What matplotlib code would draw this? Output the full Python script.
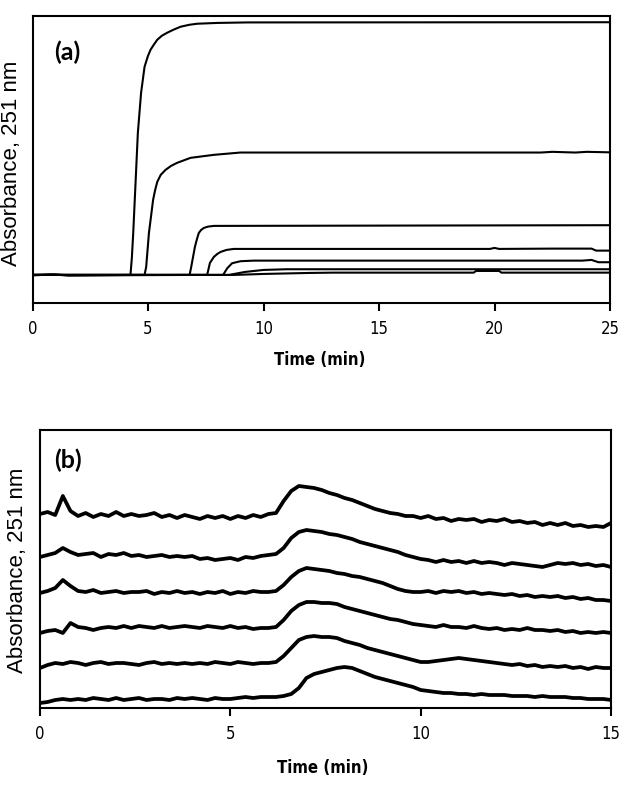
import numpy as np
import matplotlib
matplotlib.use("Agg")
import matplotlib.pyplot as plt

NARROW = ["DejaVu Sans"]
REGULAR = ["Liberation Sans", "DejaVu Sans"]
LABEL = ["Lato", "Open Sans", "DejaVu Sans"]

# ---- panel (a): breakthrough curves, absorbance in arbitrary units ----
a_xticks = [0, 5, 10, 15, 20, 25]

c1_t = [0, 1.0, 1.6, 4.24, 4.3, 4.36, 4.46, 4.56, 4.7, 4.85, 5.0, 5.11, 5.25,
        5.4, 5.6, 5.83, 6.1, 6.41, 6.8, 7.13, 8.0, 9.3, 25]
c1_v = [28, 28.5, 27.5, 28, 45, 70, 120, 170, 210, 236, 247, 253, 258,
        263, 267, 270, 273, 276, 278, 279, 279.8, 280.3, 280.5]

c2_t = [0, 4.85, 4.92, 5.04, 5.22, 5.31, 5.4, 5.55, 5.76, 6.0, 6.26, 6.84,
        7.85, 9.0, 22.0, 22.5, 23.5, 24.0, 25]
c2_v = [28, 28, 36, 70, 103, 113, 121, 128, 133, 137, 140, 145,
        148, 150.3, 150.3, 151, 150.3, 151, 150.5]

c3_t = [0, 0.8, 1.5, 6.8, 6.87, 7.03, 7.12, 7.2, 7.3, 7.42, 7.6, 7.85, 25]
c3_v = [27.5, 28.5, 27.5, 28, 36, 56, 64, 70, 73, 75, 76.3, 77, 77.7]

c4_t = [0, 7.56, 7.68, 7.85, 8.0, 8.14, 8.4, 8.71, 19.8, 20.0, 20.2, 22.5,
        24.2, 24.4, 25]
c4_v = [28, 28, 40, 46, 49, 51, 53, 54, 54, 55, 54, 54.3,
        54.3, 52.3, 52.3]

c5_t = [0, 8.25, 8.43, 8.64, 9.0, 9.58, 23.8, 24.2, 24.5, 25]
c5_v = [28, 28, 34.7, 39.7, 41.7, 42.3, 42.3, 43, 40.7, 40.7]

c6_t = [0, 8.5, 9.2, 10.0, 11.0, 25]
c6_v = [28, 28, 31, 33, 33.7, 33.7]

c7_t = [0, 8.7, 10.0, 12.0, 13.0, 19.1, 19.2, 20.2, 20.3, 25]
c7_v = [28, 28, 29, 30, 30.3, 30.3, 32, 32, 30.3, 30.3]

a_curves = [(c1_t, c1_v), (c2_t, c2_v), (c3_t, c3_v), (c4_t, c4_v),
            (c5_t, c5_v), (c6_t, c6_v), (c7_t, c7_v)]

# ---- panel (b): stacked chromatograms, sampled every 0.2 min ----
b_xticks = [0, 5, 10, 15]
b_time = np.round(np.arange(0, 15.01, 0.2), 1)

trace1 = [194, 196, 193, 212, 197, 192, 195, 191, 194, 192,
          196, 192, 194, 192, 193, 195, 191, 193, 190, 193,
          191, 189, 192, 190, 192, 189, 192, 190, 193, 191,
          194, 195, 207, 217, 222, 221, 220, 218, 215, 213,
          210, 208, 205, 202, 199, 197, 195, 194, 192, 192,
          190, 192, 189, 190, 187, 189, 188, 189, 186, 188,
          187, 189, 186, 187, 185, 186, 183, 185, 183, 185,
          182, 183, 181, 182, 181, 185]
trace2 = [151, 153, 155, 160, 156, 153, 154, 155, 151, 154,
          153, 155, 152, 153, 151, 152, 153, 151, 152, 151,
          152, 149, 150, 148, 149, 150, 148, 151, 150, 152,
          153, 154, 160, 170, 176, 178, 177, 176, 174, 173,
          171, 169, 166, 164, 162, 160, 158, 156, 153, 151,
          149, 148, 146, 148, 146, 147, 145, 147, 145, 146,
          145, 143, 145, 144, 143, 142, 141, 143, 145, 144,
          145, 143, 144, 142, 143, 141]
trace3 = [115, 117, 120, 128, 122, 117, 116, 118, 115, 116,
          117, 115, 116, 116, 117, 114, 116, 115, 117, 115,
          116, 114, 116, 115, 117, 114, 116, 115, 117, 116,
          116, 117, 123, 131, 137, 140, 139, 138, 137, 135,
          134, 132, 131, 129, 127, 125, 122, 119, 117, 116,
          116, 117, 115, 117, 116, 117, 115, 116, 114, 115,
          114, 113, 114, 112, 113, 111, 112, 111, 112, 110,
          111, 109, 110, 108, 108, 107]
trace4 = [75, 77, 78, 75, 85, 81, 80, 78, 80, 81,
          80, 82, 80, 82, 81, 80, 82, 80, 81, 82,
          81, 80, 82, 81, 80, 82, 80, 81, 79, 80,
          80, 81, 88, 97, 103, 106, 106, 105, 105, 104,
          101, 99, 97, 95, 93, 91, 89, 88, 86, 84,
          83, 82, 81, 83, 81, 81, 80, 82, 80, 79,
          80, 78, 79, 78, 80, 78, 78, 77, 78, 76,
          77, 75, 76, 75, 76, 75]
trace5 = [40, 43, 45, 44, 46, 45, 43, 45, 46, 44,
          45, 45, 44, 43, 45, 46, 44, 45, 44, 45,
          44, 45, 44, 46, 45, 44, 46, 45, 44, 45,
          45, 46, 52, 60, 68, 71, 72, 71, 71, 70,
          67, 65, 63, 60, 58, 56, 54, 52, 50, 48,
          46, 46, 47, 48, 49, 50, 49, 48, 47, 46,
          45, 44, 43, 44, 42, 43, 41, 42, 41, 42,
          40, 41, 39, 41, 40, 40]
trace6 = [5, 6, 8, 9, 8, 9, 8, 10, 9, 8,
          10, 8, 9, 10, 8, 9, 9, 8, 10, 9,
          10, 9, 8, 10, 9, 9, 10, 11, 10, 11,
          11, 11, 12, 14, 20, 30, 34, 36, 38, 40,
          41, 40, 37, 34, 31, 29, 27, 25, 23, 21,
          18, 17, 16, 15, 15, 14, 14, 13, 14, 13,
          13, 13, 12, 12, 12, 11, 12, 11, 11, 11,
          10, 10, 9, 9, 9, 8]
b_traces = [trace1, trace2, trace3, trace4, trace5, trace6]


def style_axes(ax, xticks):
    for sp in ax.spines.values():
        sp.set_linewidth(1.5)
    ax.set_yticks([])
    ax.set_xticks(xticks)
    ax.tick_params(axis="x", direction="out", length=6, width=1.5, pad=6,
                   labelsize=12)
    for lab in ax.get_xticklabels():
        lab.set_family(NARROW)
        lab.set_stretch("condensed")


def main():
    fig = plt.figure(figsize=(6.29, 7.90), dpi=100)

    ax_a = fig.add_axes([0.0517, 0.6165, 0.9181, 0.3636])
    for t, v in a_curves:
        ax_a.plot(t, v, color="black", lw=1.5, solid_joinstyle="round")
    ax_a.set_xlim(0, 25)
    ax_a.set_ylim(0, 287)
    style_axes(ax_a, a_xticks)
    ax_a.text(0.038, 0.872, "(a)", transform=ax_a.transAxes, ha="left",
              va="center", fontsize=18, fontweight="bold", family=LABEL)

    ax_b = fig.add_axes([0.0636, 0.1038, 0.9078, 0.3519])
    for vals in b_traces:
        ax_b.plot(b_time, vals, color="black", lw=2.7, solid_joinstyle="round")
    ax_b.set_xlim(0, 15)
    ax_b.set_ylim(0, 278)
    style_axes(ax_b, b_xticks)
    ax_b.text(0.024, 0.892, "(b)", transform=ax_b.transAxes, ha="left",
              va="center", fontsize=18, fontweight="bold", family=LABEL)

    # axis titles placed in figure pixels
    W, H = 629.0, 790.0
    for x, y in [(320, 360), (323, 768)]:
        fig.text(x / W, 1 - y / H, "Time (min)", ha="center", va="center",
                 fontsize=12, fontweight="bold", family=NARROW,
                 fontstretch="condensed")
    for x, y in [(12, 163), (18, 570)]:
        fig.text(x / W, 1 - y / H, "Absorbance, 251 nm", rotation=90,
                 ha="center", va="center", fontsize=16, family=REGULAR)

    fig.savefig("out.png", dpi=100)
    plt.close(fig)


if __name__ == "__main__":
    main()
